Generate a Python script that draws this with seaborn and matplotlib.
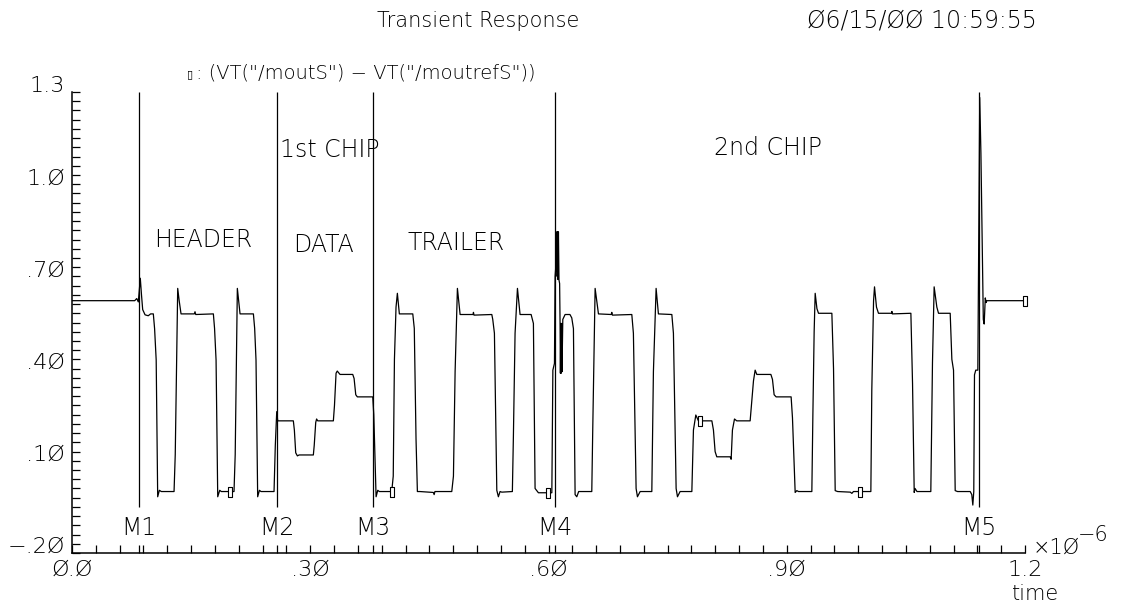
import numpy as np
import pandas as pd
import matplotlib
matplotlib.use("Agg")
import matplotlib.pyplot as plt
from matplotlib.path import Path
from matplotlib.ticker import FixedLocator, NullFormatter
import seaborn as sns

# ---- waveform of VT("/moutS") - VT("/moutrefS"); time in microseconds, volts ----
t_lead = [0.0000, 0.0790, 0.0815, 0.0835, 0.0860, 0.0875, 0.0890, 0.0920, 0.0960,
          0.0990, 0.1024, 0.1040, 0.1060, 0.1079, 0.1100, 0.1125]
v_lead = [0.621, 0.621, 0.628, 0.617, 0.694, 0.640, 0.592, 0.575, 0.572,
          0.578, 0.578, 0.530, 0.428, -0.017, 0.004, 0.000]

t_header = [0.1285, 0.1300, 0.1318, 0.1331, 0.1350, 0.1373, 0.1540, 0.1549, 0.1558,
            0.1780, 0.1795, 0.1814, 0.1835, 0.1860, 0.1880, 0.2040, 0.2055, 0.2070,
            0.2082, 0.2116, 0.2284, 0.2300, 0.2317, 0.2338, 0.2360, 0.2380, 0.2544,
            0.2560, 0.2578]
v_header = [0.000, 0.120, 0.430, 0.661, 0.620, 0.578, 0.578, 0.585, 0.576,
            0.578, 0.531, 0.428, -0.017, 0.004, 0.000, 0.000, 0.120, 0.430,
            0.661, 0.578, 0.578, 0.531, 0.428, -0.017, 0.004, 0.000, 0.000,
            0.150, 0.260]

t_data = [0.2590, 0.2787, 0.2800, 0.2817, 0.2838, 0.2860, 0.3039, 0.3050, 0.3069,
          0.3080, 0.3094, 0.3291, 0.3305, 0.3325, 0.3340, 0.3375, 0.3535, 0.3552,
          0.3573, 0.3593, 0.3787, 0.3800, 0.3829, 0.3850, 0.3870]
v_data = [0.230, 0.230, 0.200, 0.126, 0.116, 0.119, 0.119, 0.150, 0.225,
          0.236, 0.230, 0.230, 0.280, 0.385, 0.392, 0.381, 0.381, 0.368,
          0.315, 0.308, 0.308, 0.250, -0.017, 0.004, 0.000]

t_trailer = [0.4026, 0.4045, 0.4060, 0.4080, 0.4097, 0.4122, 0.4291, 0.4310, 0.4332,
             0.4349, 0.4380, 0.4550, 0.4560, 0.4570, 0.4782, 0.4803, 0.4824, 0.4853,
             0.4887, 0.5050, 0.5055, 0.5062, 0.5286, 0.5298, 0.5319, 0.5349, 0.5369,
             0.5390, 0.5412, 0.5545, 0.5558, 0.5579, 0.5609, 0.5642, 0.5781, 0.5810,
             0.5831, 0.5873, 0.6042, 0.6055, 0.6075, 0.6083]
v_trailer = [0.000, 0.050, 0.430, 0.600, 0.645, 0.578, 0.578, 0.531, 0.170,
             0.000, 0.000, -0.003, -0.010, 0.000, 0.000, 0.050, 0.390, 0.661,
             0.576, 0.576, 0.583, 0.574, 0.576, 0.560, 0.515, 0.004, -0.017,
             0.000, -0.002, 0.000, 0.180, 0.515, 0.661, 0.576, 0.576, 0.547,
             0.010, -0.004, -0.004, 0.395, 0.417, 0.700]

t_chip2 = [0.6095, 0.6104, 0.6109, 0.6114, 0.6119, 0.6125, 0.6132, 0.6140, 0.6146,
           0.6150, 0.6155, 0.6160, 0.6165, 0.6170, 0.6180, 0.6209, 0.6270, 0.6293,
           0.6314, 0.6335, 0.6356, 0.6380, 0.6545, 0.6557, 0.6587, 0.6629, 0.6790,
           0.6797, 0.6805, 0.7049, 0.7069, 0.7103, 0.7120, 0.7154, 0.7301, 0.7321,
           0.7355, 0.7384, 0.7553, 0.7573, 0.7607, 0.7624, 0.7657, 0.7805, 0.7825,
           0.7855, 0.7888, 0.8057, 0.8077, 0.8098, 0.8119, 0.8287, 0.8300, 0.8316,
           0.8342, 0.8370, 0.8539, 0.8552, 0.8581, 0.8602, 0.8623, 0.8800, 0.8820,
           0.8841, 0.8866, 0.9055, 0.9072, 0.9106, 0.9127, 0.9148, 0.9316, 0.9329,
           0.9345, 0.9358, 0.9380, 0.9400, 0.9568, 0.9589, 0.9610, 0.9640, 0.9800,
           0.9820, 0.9840, 1.0059, 1.0071, 1.0093, 1.0105, 1.0130, 1.0155, 1.0320,
           1.0324, 1.0330, 1.0563, 1.0584, 1.0605, 1.0615, 1.0640, 1.0814, 1.0835,
           1.0856, 1.0890, 1.0911, 1.1058, 1.1079, 1.1100, 1.1121, 1.1150, 1.1310,
           1.1330, 1.1343, 1.1355, 1.1364, 1.1380, 1.1406]
v_chip2 = [0.743, 0.845, 0.700, 0.845, 0.690, 0.845, 0.688, 0.677, 0.540,
           0.385, 0.547, 0.385, 0.547, 0.390, 0.560, 0.576, 0.576, 0.565,
           0.530, -0.010, -0.017, 0.000, 0.000, 0.200, 0.661, 0.578, 0.576,
           0.583, 0.574, 0.576, 0.515, 0.010, -0.017, 0.000, 0.000, 0.390,
           0.661, 0.578, 0.576, 0.515, 0.010, -0.017, 0.000, 0.000, 0.200,
           0.249, 0.230, 0.230, 0.200, 0.130, 0.113, 0.113, 0.105, 0.200,
           0.236, 0.230, 0.230, 0.270, 0.360, 0.395, 0.381, 0.381, 0.365,
           0.315, 0.308, 0.308, 0.240, -0.003, 0.003, 0.000, 0.000, 0.250,
           0.520, 0.645, 0.595, 0.580, 0.580, 0.400, 0.003, 0.000, -0.002,
           -0.006, 0.000, 0.000, 0.330, 0.620, 0.666, 0.600, 0.580, 0.580,
           0.586, 0.578, 0.580, 0.350, -0.003, 0.010, 0.000, 0.000, 0.420,
           0.666, 0.600, 0.580, 0.580, 0.430, 0.395, 0.003, 0.000, 0.000,
           -0.010, -0.044, 0.000, 0.380, 0.395, 0.395]

t_tail = [1.1430, 1.1445, 1.1475, 1.1486, 1.1500, 1.1510, 1.1520, 1.2000]
v_tail = [1.282, 1.100, 0.560, 0.545, 0.630, 0.615, 0.621, 0.621]

# marker symbols are drawn on every n-th simulation point
symbol_times = [0.1990, 0.4026, 0.5999, 0.7910, 0.9924, 1.2000]

marker_times = [0.0845, 0.2578, 0.3787, 0.6083, 1.1423]
marker_names = ["M1", "M2", "M3", "M4", "M5"]

region_names = ["HEADER", "DATA", "TRAILER", "1st CHIP", "2nd CHIP"]
region_t = [0.165, 0.317, 0.4836, 0.325, 0.876]
region_v = [0.818, 0.802, 0.808, 1.111, 1.118]

y_ticks = [-0.2, 0.1, 0.4, 0.7, 1.0, 1.3]
y_tick_labels = ["\u2212.2\u00d8", ".1\u00d8", ".4\u00d8", ".7\u00d8", "1.\u00d8", "1.3"]
x_ticks = [0.0, 0.3, 0.6, 0.9, 1.2]
x_tick_labels = ["\u00d8.\u00d8", ".3\u00d8", ".6\u00d8", ".9\u00d8", "1.2"]

title_text = "Transient Response"
date_text = "\u00d86/15/\u00d8\u00d8 10:59:55"
trace_name = '(VT("/moutS") \u2212 VT("/moutrefS"))'

# ---- assemble the trace ----
wave = pd.DataFrame({
    "time": np.concatenate([t_lead, t_header, t_data, t_trailer, t_chip2, t_tail]),
    "volt": np.concatenate([v_lead, v_header, v_data, v_trailer, v_chip2, v_tail]),
})

sns.set_theme(style="white")
plt.rcParams["font.family"] = ["DejaVu Sans"]
plt.rcParams["font.weight"] = "light"
plt.rcParams["text.color"] = "black"

W, H = 1125, 608
fig = plt.figure(figsize=(W / 100, H / 100), dpi=100, facecolor="white")

def fx(px):
    return px / W

def fy(py):
    return 1 - py / H

ax_left, ax_right, ax_top, ax_bottom = 72, 1025, 92, 553
ax = fig.add_axes([fx(ax_left), fy(ax_bottom), fx(ax_right - ax_left), (ax_bottom - ax_top) / H])
ax.set_facecolor("white")

sns.lineplot(data=wave, x="time", y="volt", sort=False, estimator=None,
             color="black", linewidth=0.9, ax=ax)

# little open rectangles riding on the trace
box = Path([(-0.42, -1), (0.42, -1), (0.42, 1), (-0.42, 1), (-0.42, -1)],
           [Path.MOVETO, Path.LINETO, Path.LINETO, Path.LINETO, Path.CLOSEPOLY])
sym_v = np.interp(symbol_times, wave["time"], wave["volt"])
ax.plot(symbol_times, sym_v, linestyle="none", marker=box, markersize=7,
        markerfacecolor="white", markeredgecolor="black", markeredgewidth=0.8,
        clip_on=False, zorder=4)

# vertical cursors M1..M5
ax.vlines(marker_times, -0.05, 1.3, color="black", linewidth=0.9)
for t, name in zip(marker_times, marker_names):
    ax.text(t, -0.118, name, ha="center", va="center", fontsize=17, color="black")

for name, t, v in zip(region_names, region_t, region_v):
    ax.text(t, v, name, ha="center", va="center", fontsize=17, color="black")

ax.set_xlim(0, 1.2)
ax.set_ylim(-0.2, 1.3)
ax.margins(0)
for side in ("top", "right"):
    ax.spines[side].set_visible(False)
for side in ("left", "bottom"):
    ax.spines[side].set_color("black")
    ax.spines[side].set_linewidth(1.1)

ax.xaxis.set_major_locator(FixedLocator(x_ticks))
ax.set_xticklabels(x_tick_labels)
ax.yaxis.set_major_locator(FixedLocator(y_ticks))
ax.set_yticklabels(y_tick_labels)
x_minor = sorted(set(np.round(np.arange(0, 1.2001, 0.03), 4)) | set(marker_times))
ax.xaxis.set_minor_locator(FixedLocator(x_minor))
ax.yaxis.set_minor_locator(FixedLocator(np.round(np.arange(-0.2, 1.3001, 0.03), 4)))
ax.xaxis.set_minor_formatter(NullFormatter())
ax.yaxis.set_minor_formatter(NullFormatter())
ax.tick_params(axis="both", which="both", direction="in", length=5.5, width=0.9,
               color="black", labelcolor="black", labelsize=16)
ax.tick_params(axis="y", which="both", left=True, pad=5)
ax.tick_params(axis="x", which="both", bottom=True, pad=5)
# value labels sit on their tick like a baseline
for lab in ax.get_yticklabels():
    lab.set_verticalalignment("baseline")
ax.set_xlabel("")
ax.set_ylabel("")
ax.grid(False)

# header texts
fig.text(fx(478), fy(21), title_text, ha="center", va="center", fontsize=15)
fig.text(fx(922), fy(21), date_text, ha="center", va="center", fontsize=17)
fig.text(fx(190), fy(74), "\u25af", ha="center", va="center", fontsize=8,
         fontweight="normal", family=["DejaVu Sans", "Noto Sans CJK SC"])
fig.text(fx(196), fy(73), ": " + trace_name, ha="left", va="center", fontsize=14)

# axis unit and name
fig.text(fx(1033), fy(548), "\u00d71\u00d8", ha="left", va="center", fontsize=15)
fig.text(fx(1078), fy(535), "\u22126", ha="left", va="center", fontsize=15)
fig.text(fx(1036), fy(594), "time", ha="center", va="center", fontsize=15)

fig.savefig("out.png", dpi=100, facecolor="white")
